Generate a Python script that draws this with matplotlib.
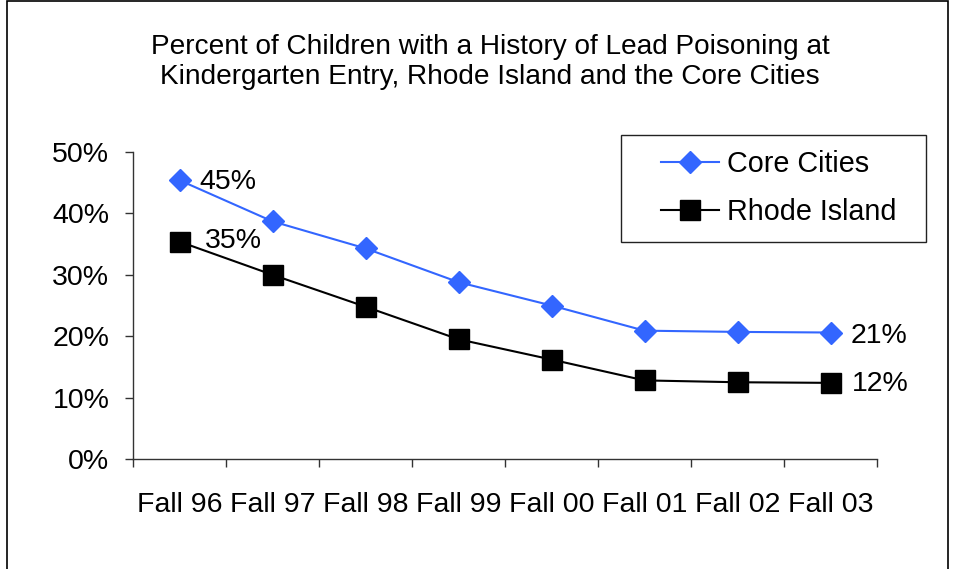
import numpy as np
import matplotlib
matplotlib.use("Agg")
import matplotlib.pyplot as plt
from matplotlib.patches import Rectangle

plt.rcParams['font.family'] = ['Liberation Sans', 'DejaVu Sans']

seasons = ["Fall 96", "Fall 97", "Fall 98", "Fall 99", "Fall 00", "Fall 01", "Fall 02", "Fall 03"]
core_cities = [45.4, 38.7, 34.3, 28.8, 25.0, 20.9, 20.7, 20.6]
rhode_island = [35.4, 30.0, 24.8, 19.5, 16.2, 12.8, 12.5, 12.4]
yticks = [0, 10, 20, 30, 40, 50]

fig = plt.figure(figsize=(9.58, 5.69), dpi=100)
ax = fig.add_axes([133/958, 1-459/569, (877-133)/958, (459-152)/569])

x = np.arange(len(seasons))
ax.plot(x, core_cities, color='#3366ff', lw=1.5, marker='D', ms=11,
        mfc='#3366ff', mec='#3366ff', label='Core Cities', clip_on=False)
ax.plot(x, rhode_island, color='black', lw=1.5, marker='s', ms=14,
        mfc='black', mec='black', label='Rhode Island', clip_on=False)

# end point labels
ax.annotate(f"{core_cities[0]:.0f}%", (x[0], core_cities[0]), xytext=(20, -2),
            textcoords='offset pixels', va='center', ha='left', fontsize=20.5)
ax.annotate(f"{rhode_island[0]:.0f}%", (x[0], rhode_island[0]), xytext=(25, 1),
            textcoords='offset pixels', va='center', ha='left', fontsize=20.5)
ax.annotate(f"{core_cities[-1]:.0f}%", (x[-1], core_cities[-1]), xytext=(20, -3),
            textcoords='offset pixels', va='center', ha='left', fontsize=20.5)
ax.annotate(f"{rhode_island[-1]:.0f}%", (x[-1], rhode_island[-1]), xytext=(21, -1),
            textcoords='offset pixels', va='center', ha='left', fontsize=20.5)

ax.set_xlim(-0.5, len(seasons) - 0.5)
ax.set_ylim(0, 50)
ax.set_yticks(yticks, labels=[f"{t}%" for t in yticks])
ax.set_xticks(np.arange(-0.5, len(seasons), 1), labels=[])
ax.set_xticks(x, labels=seasons, minor=True)
ax.tick_params(axis='x', which='major', length=6, width=1, direction='out', color='#333333')
ax.tick_params(axis='x', which='minor', length=0, pad=23.5, labelsize=20.5)
ax.tick_params(axis='y', length=6, width=1, direction='out', pad=11, labelsize=20.5, color='#333333')
for s in ['top', 'right']:
    ax.spines[s].set_visible(False)
for s in ['left', 'bottom']:
    ax.spines[s].set_color('#333333')
    ax.spines[s].set_linewidth(1)

fig.text(490/958, 1-62/569, "Percent of Children with a History of Lead Poisoning at\n"
         "Kindergarten Entry, Rhode Island and the Core Cities",
         ha='center', va='center', fontsize=20.2, linespacing=1.2)

# legend with a separate box
fig.legend(loc='center left', bbox_to_anchor=(661/958, 1-188/569),
           bbox_transform=fig.transFigure, frameon=False, fontsize=20.7,
           handlelength=2.0, handletextpad=0.3, labelspacing=0.7, borderpad=0,
           borderaxespad=0)
fig.patches.append(Rectangle((621/958, 1-242/569), 305/958, 107/569,
                             transform=fig.transFigure, fill=False, ec='#222222', lw=1))

# chart border
fig.patches.append(Rectangle((7/958, -0.1), 941/958, 1.1 - 1/569,
                             transform=fig.transFigure, fill=False, ec='black', lw=1.2))

fig.savefig("out.png", dpi=100)
